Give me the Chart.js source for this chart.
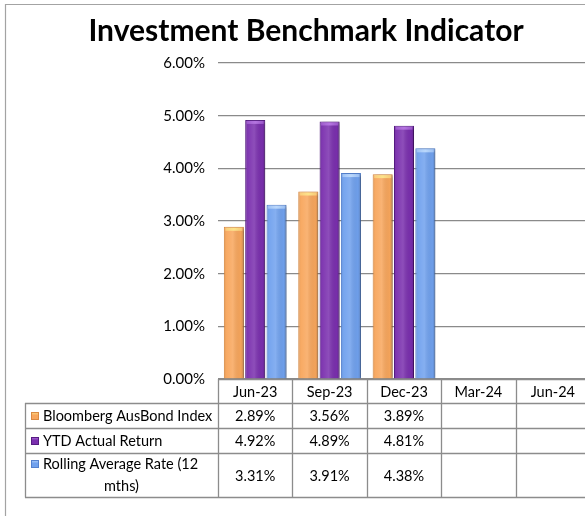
<!DOCTYPE html>
<html><head><meta charset="utf-8">
<script src="https://cdn.jsdelivr.net/npm/chart.js@4.4.0/dist/chart.umd.min.js"></script>
<style>
html,body{margin:0;padding:0;background:#fff;overflow:hidden;}
#wrap{position:relative;width:610px;height:516px;}
</style></head><body>
<div id="wrap"><canvas id="c"></canvas></div>
<script>
const categories = ['Jun-23','Sep-23','Dec-23','Mar-24','Jun-24'];
const bloomberg = [2.89, 3.56, 3.89, null, null];
const ytdActual = [4.92, 4.89, 4.81, null, null];
const rollingAvg = [3.31, 3.91, 4.38, null, null];
const seriesNames = ['Bloomberg AusBond Index', 'YTD Actual Return', 'Rolling Average Rate (12 mths)'];
const yMin = 0, yMax = 6, yStep = 1;

const fills = ['#F8A65C', '#7A2FAE', '#70A1EE'];
const edges = ['#D98942', '#561C82', '#5481CE'];
const caps  = ['#FCE38A', '#B474E0', '#BAD7FB'];
const FONT = 'Lato, Carlito, Calibri, "Open Sans", sans-serif';

const fmt = v => (v === null || v === undefined) ? '' : v.toFixed(2) + '%';

const shadowPlugin = {
  id: 'shadow',
  beforeDatasetDraw(chart) {
    const ctx = chart.ctx;
    ctx.save();
    ctx.shadowColor = 'rgba(0,0,0,0.4)';
    ctx.shadowOffsetX = 2;
    ctx.shadowOffsetY = 1;
    ctx.shadowBlur = 3;
  },
  afterDatasetDraw(chart) { chart.ctx.restore(); }
};

const shadePlugin = {
  id: 'shade',
  afterDatasetsDraw(chart) {
    const ctx = chart.ctx;
    chart.data.datasets.forEach((ds, di) => {
      const meta = chart.getDatasetMeta(di);
      meta.data.forEach((el, i) => {
        if (ds.data[i] === null) return;
        const p = el.getProps(['x', 'y', 'base', 'width'], true);
        const l = p.x - p.width / 2, r = p.x + p.width / 2;
        const g = ctx.createLinearGradient(l, 0, r, 0);
        g.addColorStop(0, 'rgba(0,0,0,0.10)');
        g.addColorStop(0.15, 'rgba(255,255,255,0.05)');
        g.addColorStop(0.45, 'rgba(255,255,255,0.15)');
        g.addColorStop(0.85, 'rgba(0,0,0,0.02)');
        g.addColorStop(1, 'rgba(0,0,0,0.18)');
        ctx.save();
        ctx.fillStyle = g;
        ctx.fillRect(l + 1, p.y + 1, p.width - 2, p.base - p.y - 1);
        const cg = ctx.createLinearGradient(l, 0, r, 0);
        cg.addColorStop(0, caps[di] + '80');
        cg.addColorStop(0.5, caps[di]);
        cg.addColorStop(1, caps[di] + '80');
        ctx.fillStyle = cg;
        ctx.fillRect(l + 1.5, p.y + 1, p.width - 3, 3);
        ctx.restore();
      });
    });
  }
};

const tablePlugin = {
  id: 'dataTable',
  afterDraw(chart) {
    const ctx = chart.ctx;
    const xs = chart.scales.x;
    const area = chart.chartArea;
    const n = categories.length;
    const colW = (area.right - area.left) / n;
    const top = area.bottom;
    const rows = [top, top + 24, top + 49, top + 74, top + 118];
    const legL = 25;
    ctx.save();
    ctx.strokeStyle = '#a3a3a3';
    ctx.lineWidth = 1.2;
    ctx.beginPath();
    ctx.moveTo(5.5, 600); ctx.lineTo(5.5, 4.5); ctx.lineTo(700, 4.5);
    ctx.stroke();

    ctx.strokeStyle = '#8c8c8c';
    ctx.lineWidth = 1.3;
    ctx.beginPath();
    ctx.moveTo(area.left, rows[0] + 0.5); ctx.lineTo(area.right, rows[0] + 0.5);
    for (let k = 1; k < rows.length; k++) {
      ctx.moveTo(legL, rows[k] + 0.5); ctx.lineTo(area.right, rows[k] + 0.5);
    }
    for (let c = 0; c <= n; c++) {
      const xv = Math.round(area.left + c * colW) + 0.5;
      ctx.moveTo(xv, rows[0]); ctx.lineTo(xv, rows[4] + 0.5);
    }
    ctx.moveTo(legL + 0.5, rows[1]); ctx.lineTo(legL + 0.5, rows[4] + 0.5);
    ctx.stroke();

    ctx.fillStyle = '#000';
    ctx.font = '14.5px ' + FONT;
    ctx.textBaseline = 'middle';
    ctx.textAlign = 'center';
    categories.forEach((c, i) => {
      ctx.fillText(c, xs.getPixelForValue(i), (rows[0] + rows[1]) / 2 + 1);
    });
    const series = [bloomberg, ytdActual, rollingAvg];
    series.forEach((arr, si) => {
      const cy = (rows[si + 1] + rows[si + 2]) / 2 + 1;
      arr.forEach((v, i) => {
        ctx.fillText(fmt(v), xs.getPixelForValue(i), cy);
      });
    });
    const drawKey = (x, y, si) => {
      const g = ctx.createLinearGradient(x, y, x, y + 8);
      g.addColorStop(0, caps[si]);
      g.addColorStop(0.4, fills[si]);
      g.addColorStop(1, fills[si]);
      ctx.fillStyle = g;
      ctx.fillRect(x, y, 8, 8);
      ctx.strokeStyle = edges[si];
      ctx.lineWidth = 1;
      ctx.strokeRect(x + 0.5, y + 0.5, 7, 7);
    };
    ctx.textAlign = 'left';
    const cy1 = (rows[1] + rows[2]) / 2 + 1;
    const cy2 = (rows[2] + rows[3]) / 2 + 1;
    drawKey(31, cy1 - 4.5, 0);
    ctx.fillStyle = '#000';
    ctx.fillText(seriesNames[0], 43, cy1);
    drawKey(31, cy2 - 4.5, 1);
    ctx.fillStyle = '#000';
    ctx.fillText(seriesNames[1], 43, cy2);
    const line1 = 'Rolling Average Rate (12';
    const line2 = seriesNames[2].slice(line1.length + 1);
    drawKey(31, rows[3] + 7, 2);
    ctx.fillStyle = '#000';
    ctx.fillText(line1, 43, rows[3] + 11);
    ctx.textAlign = 'center';
    ctx.fillText(line2, (legL + area.left) / 2, rows[3] + 33);
    ctx.restore();
  }
};

new Chart(document.getElementById('c'), {
  type: 'bar',
  data: {
    labels: categories,
    datasets: [
      { label: seriesNames[0], data: bloomberg, backgroundColor: fills[0], borderColor: edges[0], borderWidth: 1 },
      { label: seriesNames[1], data: ytdActual, backgroundColor: fills[1], borderColor: edges[1], borderWidth: 1 },
      { label: seriesNames[2], data: rollingAvg, backgroundColor: fills[2], borderColor: edges[2], borderWidth: 1 }
    ]
  },
  options: {
    responsive: true,
    maintainAspectRatio: false,
    animation: false,
    datasets: { bar: { categoryPercentage: 0.86, barPercentage: 0.94 } },
    layout: { padding: { left: 22, right: 20, top: 0, bottom: 137 } },
    plugins: {
      legend: { display: false },
      tooltip: { enabled: false },
      title: {
        display: true,
        text: 'Investment Benchmark Indicator',
        color: '#000',
        font: { family: FONT, size: 30, weight: 'bold', lineHeight: 1.2 },
        padding: { top: 13, bottom: 14 }
      }
    },
    scales: {
      x: { display: false },
      y: {
        min: yMin, max: yMax,
        border: { display: false },
        grid: { color: '#8a8a8a', lineWidth: 1.2, drawTicks: false },
        ticks: {
          stepSize: yStep, padding: 13, color: '#000',
          font: { family: FONT, size: 15 },
          callback: v => fmt(v)
        },
        afterFit(scale) { scale.width = 196; }
      }
    }
  },
  plugins: [shadowPlugin, shadePlugin, tablePlugin]
});
</script>
</body></html>
